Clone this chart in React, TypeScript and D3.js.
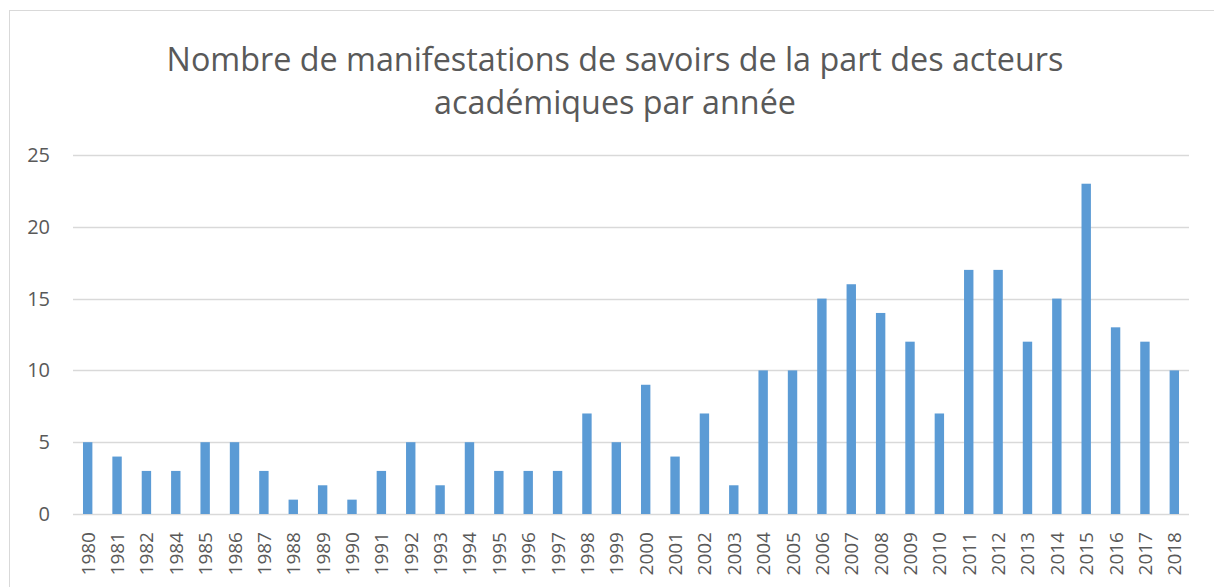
import React, { useEffect, useRef } from "react";
import * as d3 from "d3";

const years = [
  "1980", "1981", "1982", "1984", "1985", "1986", "1987", "1988", "1989", "1990",
  "1991", "1992", "1993", "1994", "1995", "1996", "1997", "1998", "1999", "2000",
  "2001", "2002", "2003", "2004", "2005", "2006", "2007", "2008", "2009", "2010",
  "2011", "2012", "2013", "2014", "2015", "2016", "2017", "2018",
];
const counts = [
  5, 4, 3, 3, 5, 5, 3, 1, 2, 1,
  3, 5, 2, 5, 3, 3, 3, 7, 5, 9,
  4, 7, 2, 10, 10, 15, 16, 14, 12, 7,
  17, 17, 12, 15, 23, 13, 12, 10,
];
const yTicks = [0, 5, 10, 15, 20, 25];
const titleLines = [
  "Nombre de manifestations de savoirs de la part des acteurs",
  "académiques par année",
];

const W = 1214;
const H = 587;
const FONT = "'Open Sans', 'Liberation Sans', sans-serif";
const TEXT = "#595959";

export default function App() {
  const ref = useRef<SVGSVGElement>(null);

  useEffect(() => {
    const svg = d3.select(ref.current);
    svg.selectAll("*").remove();

    // chart frame
    svg.append("rect")
      .attr("x", 9.5).attr("y", 10.5)
      .attr("width", 1220).attr("height", 600)
      .attr("fill", "#fff").attr("stroke", "#d9d9d9");

    const x = d3.scaleBand().domain(years).range([73, 1189]).paddingInner(0.68).paddingOuter(0.34);
    const y = d3.scaleLinear().domain([0, 25]).range([514, 155]);

    // title
    svg.append("g").selectAll("text").data(titleLines).join("text")
      .attr("x", 615).attr("y", (_d, i) => 71 + i * 43)
      .attr("text-anchor", "middle")
      .attr("font-family", FONT).attr("font-size", 32.3)
      .attr("fill", TEXT)
      .text((d) => d);

    // gridlines
    svg.append("g").selectAll("line").data(yTicks).join("line")
      .attr("x1", 73).attr("x2", 1189)
      .attr("y1", (d) => Math.round(y(d)) + 0.5).attr("y2", (d) => Math.round(y(d)) + 0.5)
      .attr("stroke", "#d9d9d9").attr("stroke-width", 1.3);

    // y labels
    svg.append("g").selectAll("text").data(yTicks).join("text")
      .attr("x", 50).attr("y", (d) => y(d) + 7)
      .attr("text-anchor", "end")
      .attr("font-family", FONT).attr("font-size", 20)
      .attr("fill", TEXT)
      .text((d) => d);

    // bars
    svg.append("g").selectAll("rect").data(counts).join("rect")
      .attr("x", (_d, i) => x(years[i])!)
      .attr("width", x.bandwidth())
      .attr("y", (d) => y(d))
      .attr("height", (d) => y(0) - y(d))
      .attr("fill", "#5b9bd5");

    // x labels
    svg.append("g").selectAll("text").data(years).join("text")
      .attr("transform", (d) => `translate(${x(d)! + x.bandwidth() / 2 + 7},${532}) rotate(-90)`)
      .attr("text-anchor", "end")
      .attr("font-family", FONT).attr("font-size", 19)
      .attr("fill", TEXT)
      .text((d) => d);
  }, []);

  return (
    <svg
      ref={ref}
      width={W}
      height={H}
      style={{ position: "absolute", left: 0, top: 0, background: "#fff" }}
    />
  );
}
